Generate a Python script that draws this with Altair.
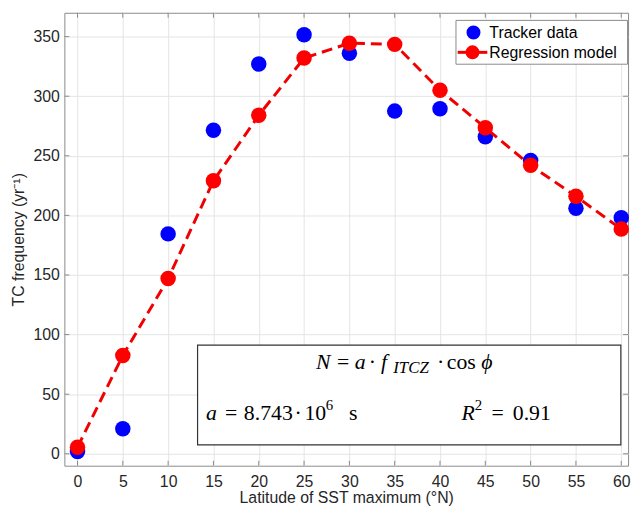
import altair as alt
import pandas as pd

# ---- data ----
latitudes = [0, 5, 10, 15, 20, 25, 30, 35, 40, 45, 50, 55, 60]
tracker = [2, 21, 184.5, 271.5, 327, 351.5, 336, 287.5, 289.5, 266, 246, 206, 198]
model = [5.5, 82.5, 147, 229, 284, 332, 344.5, 343.5, 305, 273.5, 242, 216, 188.5]
x_ticks = [0, 5, 10, 15, 20, 25, 30, 35, 40, 45, 50, 55, 60]
y_ticks = [0, 50, 100, 150, 200, 250, 300, 350]

W, H = 570, 458
AX = "#262626"
BOX = "#8a8a8a"
GRID = "#e4e4e4"
FONT = "Liberation Sans"
SERIF = "Liberation Serif"

df_t = pd.DataFrame({"lat": latitudes, "freq": tracker})
df_m = pd.DataFrame({"lat": latitudes, "freq": model})
df_xt = pd.DataFrame({"lat": x_ticks})
df_yt = pd.DataFrame({"freq": y_ticks})

xscale = alt.Scale(domain=[-1.45, 60.75], nice=False, zero=False)
yscale = alt.Scale(domain=[-10, 370], nice=False, zero=False)
xaxis = alt.Axis(values=x_ticks, title="Latitude of SST maximum (°N)", grid=True,
                 gridColor=GRID, domain=False, ticks=False, labelPadding=8,
                 labelFont=FONT, labelFontSize=16, labelColor=AX,
                 titleFont=FONT, titleFontSize=16, titleFontWeight="normal",
                 titleColor=AX, titlePadding=0)
yaxis = alt.Axis(values=y_ticks, title="TC frequency (yr⁻¹)", grid=True,
                 gridColor=GRID, domain=False, ticks=False, labelPadding=5,
                 labelFont=FONT, labelFontSize=16, labelColor=AX,
                 titleFont=FONT, titleFontSize=16, titleFontWeight="normal",
                 titleColor=AX, titlePadding=7)
X = alt.X("lat:Q", scale=xscale, axis=xaxis)
Y = alt.Y("freq:Q", scale=yscale, axis=yaxis)

blue = alt.Chart(df_t).mark_point(filled=True, shape="circle", size=245,
                                  color="#0000ff", opacity=1).encode(x=X, y=Y)
line = alt.Chart(df_m).mark_line(color="#f00000", strokeWidth=3,
                                 strokeDash=[11, 6]).encode(x=X, y=Y)
red = alt.Chart(df_m).mark_point(filled=True, shape="circle", size=245,
                                 color="#ff0000", opacity=1).encode(x=X, y=Y)

tick_len = 5
xt_bot = alt.Chart(df_xt).mark_rule(color=BOX).encode(
    x=X, y=alt.value(H), y2=alt.value(H - tick_len))
xt_top = alt.Chart(df_xt).mark_rule(color=BOX).encode(
    x=X, y=alt.value(0), y2=alt.value(tick_len))
yt_left = alt.Chart(df_yt).mark_rule(color=BOX).encode(
    y=Y, x=alt.value(0), x2=alt.value(tick_len))
yt_right = alt.Chart(df_yt).mark_rule(color=BOX).encode(
    y=Y, x=alt.value(W), x2=alt.value(W - tick_len))

# ---- annotation box ----
one = pd.DataFrame({"k": [0]})
ann_box = alt.Chart(one).mark_rect(
    fill="white", stroke="#333333", strokeWidth=1.2).encode(
    x=alt.value(134.7), x2=alt.value(562.7), y=alt.value(336), y2=alt.value(437))

# pieces: text, x-center, baseline y, size, italic
pieces = [
    ("N", 261.7, 360, 22, True), ("=", 282, 360, 22, False),
    ("a", 299.2, 360, 22, True), ("·", 311.4, 360, 22, False),
    ("f", 323.2, 360, 22, True), ("ITCZ", 350.5, 364.5, 17, True),
    ("·", 380.4, 360, 22, False), ("cos", 401.4, 360, 22, False),
    ("ϕ", 427.2, 360, 22, True),
    ("a", 148.7, 412, 22, True), ("=", 168.7, 412, 22, False),
    ("8.743", 206.2, 412, 22, False), ("·", 236.4, 412, 22, False),
    ("10", 253.7, 412, 22, False), ("6", 268.0, 402, 15, False),
    ("s", 292.2, 412, 22, False),
    ("R", 408.2, 412, 22, True), ("2", 418.6, 402, 15, False),
    ("=", 438.2, 412, 22, False), ("0.91", 472.7, 412, 22, False),
]
ann_layers = []
for txt, px, py, fs, it in pieces:
    ann_layers.append(
        alt.Chart(one).mark_text(
            text=txt, font=SERIF, fontSize=fs, align="center",
            baseline="alphabetic", color="black",
            fontStyle="italic" if it else "normal").encode(
            x=alt.value(px), y=alt.value(py)))

# ---- legend ----
leg_box = alt.Chart(one).mark_rect(fill="white", stroke=BOX, strokeWidth=1).encode(
    x=alt.value(396), x2=alt.value(569.5), y=alt.value(7.7), y2=alt.value(52))
leg_b = alt.Chart(one).mark_point(filled=True, shape="circle", size=200,
                                  color="#0000ff", opacity=1).encode(
    x=alt.value(413.7), y=alt.value(20))
leg_line = alt.Chart(one).mark_rule(color="#f00000", strokeWidth=3).encode(
    x=alt.value(397.7), x2=alt.value(427.7), y=alt.value(40))
leg_r = alt.Chart(one).mark_point(filled=True, shape="circle", size=200,
                                  color="#ff0000", opacity=1).encode(
    x=alt.value(412.7), y=alt.value(40))
leg_t1 = alt.Chart(one).mark_text(text="Tracker data", font=FONT, fontSize=16,
                                  align="left", baseline="middle", color="black").encode(
    x=alt.value(429.7), y=alt.value(20.5))
leg_t2 = alt.Chart(one).mark_text(text="Regression model", font=FONT, fontSize=16,
                                  align="left", baseline="middle", color="black").encode(
    x=alt.value(429.7), y=alt.value(40.5))

chart = alt.layer(
    xt_bot, xt_top, yt_left, yt_right,
    blue, line, red,
    ann_box, *ann_layers,
    leg_box, leg_b, leg_line, leg_r, leg_t1, leg_t2,
).properties(
    width=W, height=H,
    autosize=alt.AutoSizeParams(type="none"),
    padding={"left": 57, "top": 2, "right": 5, "bottom": 46},
    background="white",
).configure_view(stroke=BOX, strokeWidth=1)

chart.save("out.html", embed_options={"renderer": "svg", "actions": False})
